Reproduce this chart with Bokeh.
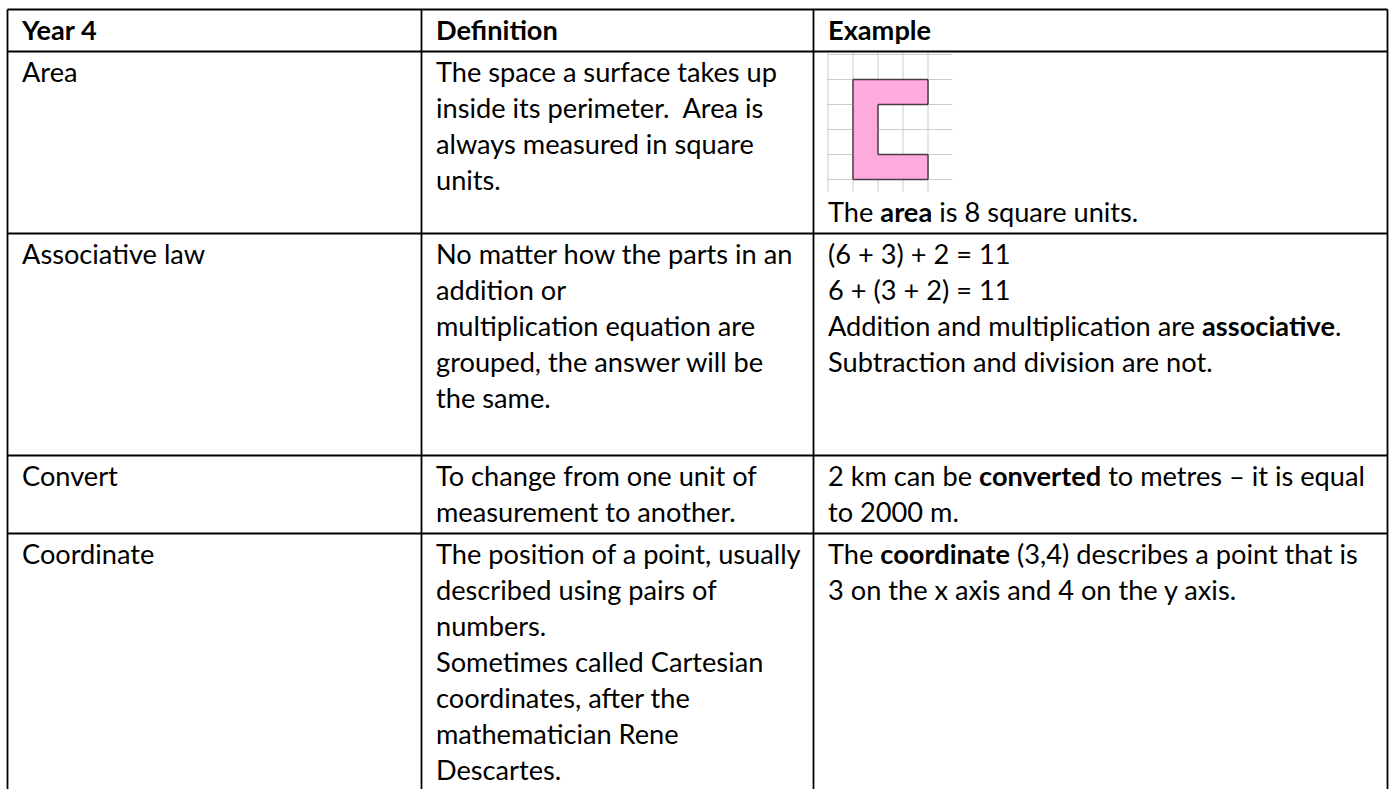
import glob
import os

from bokeh.core.properties import value
from bokeh.embed import file_html
from bokeh.models import ColumnDataSource, Range1d
from bokeh.plotting import figure
from bokeh.resources import INLINE

# ---------------------------------------------------------------- content
HEADERS = ["Year 4", "Definition", "Example"]
TERMS = ["Area", "Associative law", "Convert", "Coordinate"]
DEFINITIONS = [
    ["The space a surface takes up", "inside its perimeter.\u00a0 Area is",
     "always measured in square", "units."],
    ["No matter how the parts in an", "addition or", "multiplication equation are",
     "grouped, the answer will be", "the same.", ""],
    ["To change from one unit of", "measurement to another."],
    ["The position of a point, usually", "described using pairs of", "numbers.",
     "Sometimes called Cartesian", "coordinates, after the", "mathematician Rene",
     "Descartes."],
]
# each example line is a list of (text, bold) segments
EXAMPLES = [
    [[("The ", False), ("area", True), (" is 8 square units.", False)]],
    [[("(6 + 3) + 2 = 11", False)],
     [("6 + (3 + 2) = 11", False)],
     [("Addition and multiplication are ", False), ("associative", True), (".", False)],
     [("Subtraction and division are not.", False)]],
    [[("2 km can be ", False), ("converted", True), (" to metres \u2013 it is equal", False)],
     [("to 2000 m.", False)]],
    [[("The ", False), ("coordinate", True), (" (3,4) describes a point that is", False)],
     [("3 on the x axis and 4 on the y axis.", False)]],
]
# squared-paper picture for "Area": grid size and the shaded unit squares
GRID_COLS = 5
GRID_ROWS = 5
AREA_SQ_COL = [1, 2, 3, 1, 1, 1, 2, 3]
AREA_SQ_ROW = [1, 1, 1, 2, 3, 4, 4, 4]

# ---------------------------------------------------------------- layout / style
W, H = 1392, 789
COL_EDGES = [7, 421, 813, 1387]
TABLE_TOP = 9
LINE_H = 36
BASE = 30.5
ROW_PAD = 6
PAD_X = 14.5
FONT_PX = 27.2
TEXT_DY = -10.5          # renderer places alphabetic baseline this much low
FONT = "Lato"
IMG_W, IMG_H = 125, 140
CELL = 25
GRID_X0, GRID_Y0 = 0.5, 3

# ---------------------------------------------------------------- text metrics
def _find_font(name):
    roots = ["/usr/share/fonts", "/usr/local/share/fonts",
             os.path.expanduser("~/.fonts"), os.path.expanduser("~/.local/share/fonts")]
    for r in roots:
        hits = glob.glob(os.path.join(r, "**", name), recursive=True)
        if hits:
            return hits[0]
    return None

_fonts = {}
try:
    from PIL import ImageFont
    _r, _b = _find_font("Lato-Regular.ttf"), _find_font("Lato-Bold.ttf")
    if _r and _b:
        _fonts[False] = ImageFont.truetype(_r, 100)
        _fonts[True] = ImageFont.truetype(_b, 100)
except Exception:
    _fonts = {}

def text_width(s, bold):
    if s == "":
        return 0.0
    if bold in _fonts:
        return _fonts[bold].getlength(s) * FONT_PX / 100.0
    return len(s) * FONT_PX * (0.52 if bold else 0.49)

# ---------------------------------------------------------------- build table geometry
rows_h = [LINE_H + ROW_PAD]
for i in range(len(TERMS)):
    ex_h = len(EXAMPLES[i]) * LINE_H + (IMG_H if i == 0 else 0)
    rows_h.append(max(LINE_H, len(DEFINITIONS[i]) * LINE_H, ex_h) + ROW_PAD)
row_tops = [TABLE_TOP]
for h in rows_h:
    row_tops.append(row_tops[-1] + h)

reg = dict(x=[], y=[], text=[])
bold = dict(x=[], y=[], text=[])

def put(x, y, s, b):
    stripped = s.lstrip(" ")
    x = x + text_width(s[: len(s) - len(stripped)], b)
    stripped = stripped.rstrip(" ")
    if stripped:
        d = bold if b else reg
        d["x"].append(x)
        d["y"].append(y + TEXT_DY)
        d["text"].append(stripped)

for c, h in enumerate(HEADERS):
    put(COL_EDGES[c] + PAD_X, row_tops[0] + BASE, h, True)

for i, term in enumerate(TERMS):
    top = row_tops[i + 1]
    put(COL_EDGES[0] + PAD_X, top + BASE, term, False)
    for k, line in enumerate(DEFINITIONS[i]):
        put(COL_EDGES[1] + PAD_X, top + BASE + k * LINE_H, line, False)
    ex_top = top + (IMG_H if i == 0 else 0)
    for k, segs in enumerate(EXAMPLES[i]):
        x = COL_EDGES[2] + PAD_X
        for s, b in segs:
            put(x, ex_top + BASE + k * LINE_H, s, b)
            x += text_width(s, b)

# table rules
far = row_tops[-1]
hx0, hy0, hx1, hy1 = [], [], [], []
for y in row_tops:
    hx0.append(COL_EDGES[0]); hx1.append(COL_EDGES[-1]); hy0.append(y); hy1.append(y)
for x in COL_EDGES:
    hx0.append(x); hx1.append(x); hy0.append(TABLE_TOP); hy1.append(far)

# squared-paper picture
img_l = COL_EDGES[2] + PAD_X - 0.5
img_t = row_tops[1]
gx0, gy0, gx1, gy1 = [], [], [], []
for i in range(GRID_COLS):
    x = img_l + GRID_X0 + i * CELL
    gx0.append(x); gx1.append(x); gy0.append(img_t); gy1.append(img_t + IMG_H)
for j in range(GRID_ROWS + 1):
    y = img_t + GRID_Y0 + j * CELL
    gx0.append(img_l); gx1.append(img_l + IMG_W); gy0.append(y); gy1.append(y)

sq_l = [img_l + GRID_X0 + c * CELL for c in AREA_SQ_COL]
sq_t = [img_t + GRID_Y0 + r * CELL for r in AREA_SQ_ROW]
sq_r = [v + CELL for v in sq_l]
sq_b = [v + CELL for v in sq_t]

# outline of the shaded shape: unit edges that belong to only one square
edges = {}
for c, r in zip(AREA_SQ_COL, AREA_SQ_ROW):
    for e in [((c, r), (c + 1, r)), ((c, r + 1), (c + 1, r + 1)),
              ((c, r), (c, r + 1)), ((c + 1, r), (c + 1, r + 1))]:
        edges[e] = edges.get(e, 0) + 1
ox0, oy0, ox1, oy1 = [], [], [], []
for (a, b), n in edges.items():
    if n == 1:
        ox0.append(img_l + GRID_X0 + a[0] * CELL); oy0.append(img_t + GRID_Y0 + a[1] * CELL)
        ox1.append(img_l + GRID_X0 + b[0] * CELL); oy1.append(img_t + GRID_Y0 + b[1] * CELL)

# ---------------------------------------------------------------- figure
p = figure(width=W, height=H, output_backend="svg", toolbar_location=None,
           x_range=Range1d(0, W), y_range=Range1d(H, 0),
           x_axis_location=None, y_axis_location=None, min_border=0)
p.outline_line_color = None
p.xgrid.visible = False
p.ygrid.visible = False
p.background_fill_color = "white"
p.border_fill_color = "white"

p.segment(x0=gx0, y0=gy0, x1=gx1, y1=gy1, line_color="#cdcdcd", line_width=1)
p.quad(left=sq_l, right=sq_r, top=sq_t, bottom=sq_b, fill_color="#ffaadc",
       line_color=None)
p.segment(x0=ox0, y0=oy0, x1=ox1, y1=oy1, line_color="#4a3a46", line_width=1.5)

p.segment(x0=hx0, y0=hy0, x1=hx1, y1=hy1, line_color="black", line_width=1.8)

p.text(x="x", y="y", text="text", source=ColumnDataSource(reg),
       text_font=value(FONT), text_font_size=f"{FONT_PX}px", text_color="black",
       text_baseline="alphabetic", text_align="left")
p.text(x="x", y="y", text="text", source=ColumnDataSource(bold),
       text_font=value(FONT), text_font_size=f"{FONT_PX}px", text_color="black",
       text_font_style="bold", text_baseline="alphabetic", text_align="left")

open("out.html", "w").write(file_html(p, INLINE))
